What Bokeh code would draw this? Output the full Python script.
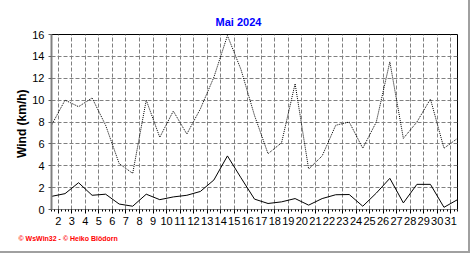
from bokeh.plotting import figure
from bokeh.models import Range1d, FixedTicker, Title
from bokeh.embed import file_html
from bokeh.resources import INLINE

# ---- data ----
days = list(range(1, 32))
wind_max = [7.7, 10.0, 9.4, 10.2, 7.7, 4.2, 3.3, 10.0, 6.6, 9.0,
            6.9, 9.2, 12.1, 15.9, 12.8, 8.6, 5.1, 6.1, 11.5, 3.7,
            4.9, 7.7, 8.0, 5.6, 8.0, 13.5, 6.5, 8.0, 10.1, 5.6, 6.5]
wind_avg = [1.2, 1.45, 2.45, 1.3, 1.4, 0.5, 0.3, 1.4, 0.9, 1.15,
            1.3, 1.65, 2.7, 4.9, 2.9, 0.95, 0.55, 0.7, 1.0, 0.4,
            1.0, 1.35, 1.37, 0.3, 1.5, 2.85, 0.6, 2.3, 2.3, 0.2, 0.9]
tick_days = list(range(2, 32))
y_ticks = list(range(0, 17, 2))
title_text = "Mai 2024"
y_label = "Wind  (km/h)"
footer_text = "\u00a9 WsWin32 - \u00a9 Heiko Bl\u00f6dorn"

# daily values are drawn at midday, day labels at day boundaries
x_pos = [d + 0.5 for d in days]

FONT = "Liberation Sans"

p = figure(width=470, height=253, output_backend="svg", toolbar_location=None,
           title=None,
           x_range=Range1d(1.5, 31.5), y_range=Range1d(0, 16),
           min_border_left=51, min_border_right=13,
           min_border_top=34, min_border_bottom=44,
           background_fill_color="white", border_fill_color="white")
p.styles = {"border-right": "2px solid #a0a0a0",
            "border-bottom": "2px solid #a0a0a0"}
p.outline_line_color = "black"
p.outline_line_width = 1

xticker = FixedTicker(ticks=tick_days,
                      minor_ticks=[1.5 + 0.25 * i for i in range(121)])
yticker = FixedTicker(ticks=y_ticks, minor_ticks=[])
p.xaxis.ticker = xticker
p.yaxis.ticker = yticker
p.xgrid.ticker = xticker
p.ygrid.ticker = yticker

for g in (p.xgrid, p.ygrid):
    g.grid_line_color = "#808080"
    g.grid_line_dash = "4 2"
    g.grid_line_width = 1

ax = p.xaxis[0]
ax.axis_line_color = "#808080"
ax.axis_line_width = 1
ax.major_tick_out = 4
ax.major_tick_in = 0
ax.minor_tick_out = 2
ax.minor_tick_in = 0
ax.major_tick_line_color = "black"
ax.minor_tick_line_color = "black"
ax.major_label_standoff = 3
ax.major_label_text_font = FONT
ax.major_label_text_font_size = "11px"
ax.major_label_text_color = "black"

ay = p.yaxis[0]
ay.axis_line_color = "#808080"
ay.axis_line_width = 2
ay.major_tick_out = 3
ay.major_tick_in = 0
ay.minor_tick_out = 0
ay.minor_tick_in = 0
ay.major_tick_line_color = "#606060"
ay.major_label_standoff = 4
ay.major_label_text_font = FONT
ay.major_label_text_font_size = "11px"
ay.major_label_text_color = "black"
ay.axis_label = y_label
ay.axis_label_text_font = FONT
ay.axis_label_text_font_style = "bold"
ay.axis_label_text_font_size = "12px"
ay.axis_label_text_color = "black"
ay.axis_label_standoff = 0

p.line(x_pos, wind_max, line_color="black", line_width=1, line_dash="1 1")
p.line(x_pos, wind_avg, line_color="black", line_width=1)

title = Title(text=title_text, align="left", offset=164, standoff=14,
              text_font=FONT, text_font_style="bold", text_font_size="11px",
              text_color="#0000ff")
footer = Title(text=footer_text, align="left", offset=-33, standoff=11,
               text_font=FONT, text_font_style="bold", text_font_size="7px",
               text_color="#ff0000")
p.add_layout(title, "above")
p.add_layout(footer, "below")

open("out.html", "w").write(file_html(p, INLINE))
